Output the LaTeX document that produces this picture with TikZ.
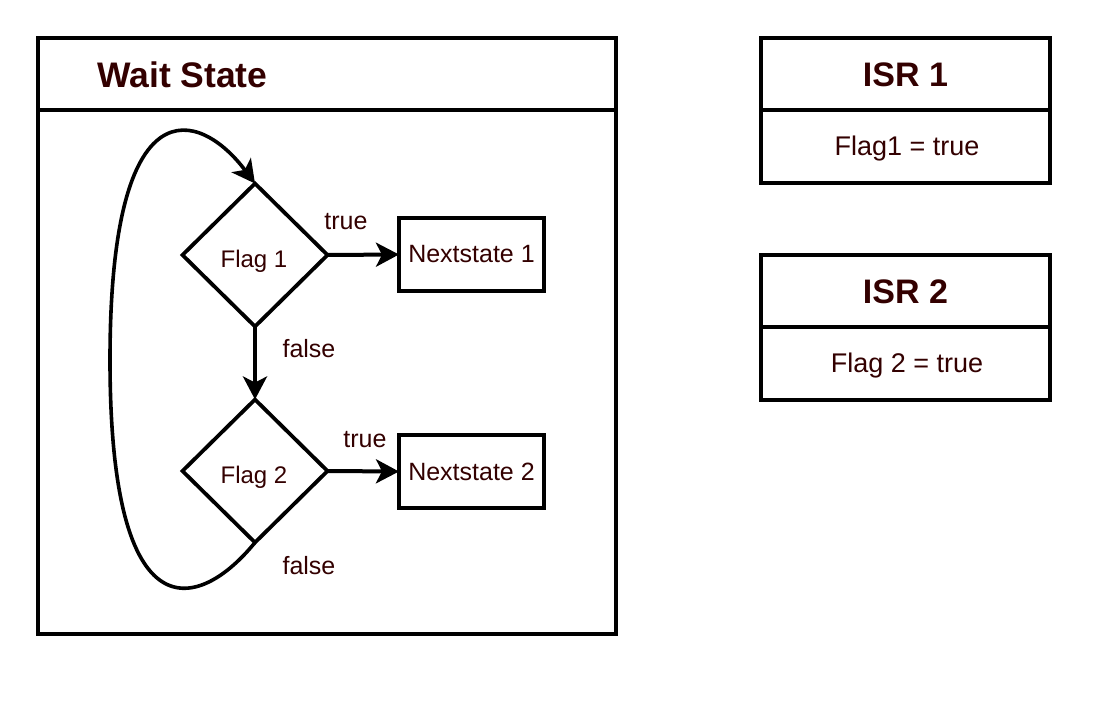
\documentclass[tikz,border=0pt]{standalone}
\usepackage{fontspec}
\setmainfont{Liberation Sans}
\usetikzlibrary{shapes.geometric,arrows.meta}
\definecolor{txt}{RGB}{51,0,0}
\begin{document}
\begin{tikzpicture}[x=1pt,y=-1pt,
  frame/.style={draw, line width=4.5pt, inner sep=0pt, outer sep=0pt, anchor=north west},
  stbox/.style={draw, line width=4.5pt, inner sep=0pt, outer sep=0pt, minimum width=145pt, minimum height=73pt, text=txt, font=\fontsize{25}{29}\selectfont},
  decision/.style={diamond, draw, line width=3.8pt, inner sep=0pt, outer sep=0pt, minimum width=145pt, minimum height=143pt},
  lbl/.style={text=txt, font=\fontsize{25}{29}\selectfont, inner sep=0pt},
  ttl/.style={text=txt, font=\fontsize{34}{40}\selectfont\bfseries, inner sep=0pt},
  body/.style={text=txt, font=\fontsize{27}{31}\selectfont, inner sep=0pt},
  arr/.style={line width=4pt, -{Stealth[length=23pt, width=24pt, inset=6pt]}}
]
\useasboundingbox (0,0) rectangle (1103,704);
\fill[white] (0,0) rectangle (1103,704);

% Wait State container
\node[frame, minimum width=578pt, minimum height=596pt] (wait) at (38,38) {};
\coordinate (wl) at (38,110);
\coordinate (wr) at (616,110);
\draw[line width=4.5pt] (wl) -- (wr);
\node[ttl, font=\fontsize{35.5}{40}\selectfont\bfseries, anchor=west] (waittitle) at (97,75) {Wait State};

% Decisions
\node[decision] (flag1) at (255,255) {};
\node[decision] (flag2) at (255,471) {};
\node[lbl, font=\fontsize{24}{28}\selectfont] (flag1t) at (254,261) {Flag 1};
\node[lbl, font=\fontsize{24}{28}\selectfont] (flag2t) at (254,477) {Flag 2};
\node[stbox] (next1) at (471.5,254.5) {\raisebox{-3pt}{Nextstate 1}};
\node[stbox] (next2) at (471.5,471.5) {\raisebox{-3pt}{Nextstate 2}};

\draw[arr] (flag1.east) -- (next1.west);
\draw[arr] (flag2.east) -- (next2.west);
\draw[arr] (flag1.south) -- (flag2.north);
\draw[arr, line width=3.6pt] (flag2.south) .. controls (200,610) and (110,640) .. (110,360)
  .. controls (110,80) and (200,110) .. (flag1.north);

\node[lbl] (t1) at (346,222) {true};
\node[lbl] (f1) at (309,349) {false};
\node[lbl] (t2) at (365,440) {true};
\node[lbl] (f2) at (309,566) {false};

% ISR 1
\node[frame, minimum width=289pt, minimum height=145pt] (isr1) at (761,38) {};
\coordinate (i1l) at (761,110);
\coordinate (i1r) at (1050,110);
\draw[line width=4.5pt] (i1l) -- (i1r);
\node[ttl] (isr1t) at (905.5,75) {ISR 1};
\node[body] (isr1b) at (907,149) {Flag1 = true};

% ISR 2
\node[frame, minimum width=289pt, minimum height=145pt] (isr2) at (761,255) {};
\coordinate (i2l) at (761,327);
\coordinate (i2r) at (1050,327);
\draw[line width=4.5pt] (i2l) -- (i2r);
\node[ttl] (isr2t) at (905.5,292) {ISR 2};
\node[body] (isr2b) at (907,366) {Flag 2 = true};
\end{tikzpicture}
\end{document}
